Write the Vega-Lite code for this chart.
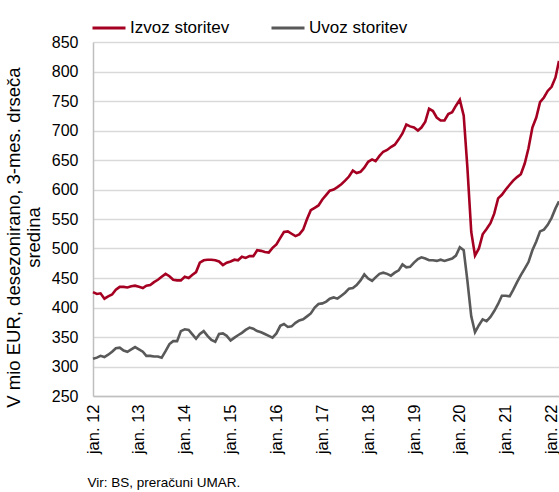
{
  "$schema": "https://vega.github.io/schema/vega-lite/v6.json",
  "width": 466,
  "height": 354,
  "autosize": {"type": "none"},
  "padding": {"left": 93, "top": 42, "right": 0, "bottom": 96},
  "background": "white",
  "config": {"view": {"stroke": null}, "font": "Liberation Sans"},
  "data": {"values": [
    {"datum": "2012/01/01", "Izvoz storitev": 426, "Uvoz storitev": 313},
    {"datum": "2012/02/01", "Izvoz storitev": 423, "Uvoz storitev": 315},
    {"datum": "2012/03/01", "Izvoz storitev": 424, "Uvoz storitev": 318},
    {"datum": "2012/04/01", "Izvoz storitev": 415, "Uvoz storitev": 316},
    {"datum": "2012/05/01", "Izvoz storitev": 419, "Uvoz storitev": 320},
    {"datum": "2012/06/01", "Izvoz storitev": 422, "Uvoz storitev": 325},
    {"datum": "2012/07/01", "Izvoz storitev": 430, "Uvoz storitev": 331},
    {"datum": "2012/08/01", "Izvoz storitev": 435, "Uvoz storitev": 332},
    {"datum": "2012/09/01", "Izvoz storitev": 435, "Uvoz storitev": 327},
    {"datum": "2012/10/01", "Izvoz storitev": 434, "Uvoz storitev": 325},
    {"datum": "2012/11/01", "Izvoz storitev": 436, "Uvoz storitev": 329},
    {"datum": "2012/12/01", "Izvoz storitev": 437, "Uvoz storitev": 333},
    {"datum": "2013/01/01", "Izvoz storitev": 435, "Uvoz storitev": 329},
    {"datum": "2013/02/01", "Izvoz storitev": 433, "Uvoz storitev": 325},
    {"datum": "2013/03/01", "Izvoz storitev": 437, "Uvoz storitev": 318},
    {"datum": "2013/04/01", "Izvoz storitev": 438, "Uvoz storitev": 318},
    {"datum": "2013/05/01", "Izvoz storitev": 443, "Uvoz storitev": 317},
    {"datum": "2013/06/01", "Izvoz storitev": 447, "Uvoz storitev": 317},
    {"datum": "2013/07/01", "Izvoz storitev": 452, "Uvoz storitev": 315},
    {"datum": "2013/08/01", "Izvoz storitev": 457, "Uvoz storitev": 326},
    {"datum": "2013/09/01", "Izvoz storitev": 453, "Uvoz storitev": 338},
    {"datum": "2013/10/01", "Izvoz storitev": 447, "Uvoz storitev": 343},
    {"datum": "2013/11/01", "Izvoz storitev": 446, "Uvoz storitev": 343},
    {"datum": "2013/12/01", "Izvoz storitev": 446, "Uvoz storitev": 360},
    {"datum": "2014/01/01", "Izvoz storitev": 452, "Uvoz storitev": 363},
    {"datum": "2014/02/01", "Izvoz storitev": 450, "Uvoz storitev": 362},
    {"datum": "2014/03/01", "Izvoz storitev": 455, "Uvoz storitev": 355},
    {"datum": "2014/04/01", "Izvoz storitev": 460, "Uvoz storitev": 347},
    {"datum": "2014/05/01", "Izvoz storitev": 476, "Uvoz storitev": 355},
    {"datum": "2014/06/01", "Izvoz storitev": 480, "Uvoz storitev": 360},
    {"datum": "2014/07/01", "Izvoz storitev": 481, "Uvoz storitev": 352},
    {"datum": "2014/08/01", "Izvoz storitev": 481, "Uvoz storitev": 345},
    {"datum": "2014/09/01", "Izvoz storitev": 480, "Uvoz storitev": 342},
    {"datum": "2014/10/01", "Izvoz storitev": 478, "Uvoz storitev": 355},
    {"datum": "2014/11/01", "Izvoz storitev": 472, "Uvoz storitev": 356},
    {"datum": "2014/12/01", "Izvoz storitev": 476, "Uvoz storitev": 352},
    {"datum": "2015/01/01", "Izvoz storitev": 478, "Uvoz storitev": 344},
    {"datum": "2015/02/01", "Izvoz storitev": 481, "Uvoz storitev": 349},
    {"datum": "2015/03/01", "Izvoz storitev": 480, "Uvoz storitev": 353},
    {"datum": "2015/04/01", "Izvoz storitev": 486, "Uvoz storitev": 357},
    {"datum": "2015/05/01", "Izvoz storitev": 484, "Uvoz storitev": 362},
    {"datum": "2015/06/01", "Izvoz storitev": 487, "Uvoz storitev": 366},
    {"datum": "2015/07/01", "Izvoz storitev": 487, "Uvoz storitev": 364},
    {"datum": "2015/08/01", "Izvoz storitev": 497, "Uvoz storitev": 360},
    {"datum": "2015/09/01", "Izvoz storitev": 496, "Uvoz storitev": 358},
    {"datum": "2015/10/01", "Izvoz storitev": 494, "Uvoz storitev": 355},
    {"datum": "2015/11/01", "Izvoz storitev": 493, "Uvoz storitev": 352},
    {"datum": "2015/12/01", "Izvoz storitev": 501, "Uvoz storitev": 349},
    {"datum": "2016/01/01", "Izvoz storitev": 507, "Uvoz storitev": 356},
    {"datum": "2016/02/01", "Izvoz storitev": 518, "Uvoz storitev": 369},
    {"datum": "2016/03/01", "Izvoz storitev": 528, "Uvoz storitev": 372},
    {"datum": "2016/04/01", "Izvoz storitev": 529, "Uvoz storitev": 367},
    {"datum": "2016/05/01", "Izvoz storitev": 525, "Uvoz storitev": 368},
    {"datum": "2016/06/01", "Izvoz storitev": 521, "Uvoz storitev": 374},
    {"datum": "2016/07/01", "Izvoz storitev": 524, "Uvoz storitev": 378},
    {"datum": "2016/08/01", "Izvoz storitev": 532, "Uvoz storitev": 380},
    {"datum": "2016/09/01", "Izvoz storitev": 550, "Uvoz storitev": 385},
    {"datum": "2016/10/01", "Izvoz storitev": 565, "Uvoz storitev": 390},
    {"datum": "2016/11/01", "Izvoz storitev": 569, "Uvoz storitev": 400},
    {"datum": "2016/12/01", "Izvoz storitev": 573, "Uvoz storitev": 406},
    {"datum": "2017/01/01", "Izvoz storitev": 583, "Uvoz storitev": 407},
    {"datum": "2017/02/01", "Izvoz storitev": 591, "Uvoz storitev": 410},
    {"datum": "2017/03/01", "Izvoz storitev": 598, "Uvoz storitev": 415},
    {"datum": "2017/04/01", "Izvoz storitev": 600, "Uvoz storitev": 417},
    {"datum": "2017/05/01", "Izvoz storitev": 604, "Uvoz storitev": 415},
    {"datum": "2017/06/01", "Izvoz storitev": 609, "Uvoz storitev": 420},
    {"datum": "2017/07/01", "Izvoz storitev": 615, "Uvoz storitev": 425},
    {"datum": "2017/08/01", "Izvoz storitev": 622, "Uvoz storitev": 432},
    {"datum": "2017/09/01", "Izvoz storitev": 632, "Uvoz storitev": 433},
    {"datum": "2017/10/01", "Izvoz storitev": 628, "Uvoz storitev": 438},
    {"datum": "2017/11/01", "Izvoz storitev": 630, "Uvoz storitev": 446},
    {"datum": "2017/12/01", "Izvoz storitev": 637, "Uvoz storitev": 456},
    {"datum": "2018/01/01", "Izvoz storitev": 647, "Uvoz storitev": 449},
    {"datum": "2018/02/01", "Izvoz storitev": 651, "Uvoz storitev": 445},
    {"datum": "2018/03/01", "Izvoz storitev": 648, "Uvoz storitev": 451},
    {"datum": "2018/04/01", "Izvoz storitev": 657, "Uvoz storitev": 457},
    {"datum": "2018/05/01", "Izvoz storitev": 664, "Uvoz storitev": 459},
    {"datum": "2018/06/01", "Izvoz storitev": 667, "Uvoz storitev": 457},
    {"datum": "2018/07/01", "Izvoz storitev": 672, "Uvoz storitev": 454},
    {"datum": "2018/08/01", "Izvoz storitev": 676, "Uvoz storitev": 459},
    {"datum": "2018/09/01", "Izvoz storitev": 685, "Uvoz storitev": 463},
    {"datum": "2018/10/01", "Izvoz storitev": 695, "Uvoz storitev": 473},
    {"datum": "2018/11/01", "Izvoz storitev": 710, "Uvoz storitev": 468},
    {"datum": "2018/12/01", "Izvoz storitev": 707, "Uvoz storitev": 469},
    {"datum": "2019/01/01", "Izvoz storitev": 705, "Uvoz storitev": 476},
    {"datum": "2019/02/01", "Izvoz storitev": 700, "Uvoz storitev": 482},
    {"datum": "2019/03/01", "Izvoz storitev": 705, "Uvoz storitev": 485},
    {"datum": "2019/04/01", "Izvoz storitev": 715, "Uvoz storitev": 483},
    {"datum": "2019/05/01", "Izvoz storitev": 737, "Uvoz storitev": 480},
    {"datum": "2019/06/01", "Izvoz storitev": 733, "Uvoz storitev": 480},
    {"datum": "2019/07/01", "Izvoz storitev": 722, "Uvoz storitev": 479},
    {"datum": "2019/08/01", "Izvoz storitev": 717, "Uvoz storitev": 481},
    {"datum": "2019/09/01", "Izvoz storitev": 717, "Uvoz storitev": 479},
    {"datum": "2019/10/01", "Izvoz storitev": 728, "Uvoz storitev": 481},
    {"datum": "2019/11/01", "Izvoz storitev": 731, "Uvoz storitev": 483},
    {"datum": "2019/12/01", "Izvoz storitev": 742, "Uvoz storitev": 488},
    {"datum": "2020/01/01", "Izvoz storitev": 752, "Uvoz storitev": 502},
    {"datum": "2020/02/01", "Izvoz storitev": 725, "Uvoz storitev": 497},
    {"datum": "2020/03/01", "Izvoz storitev": 638, "Uvoz storitev": 446},
    {"datum": "2020/04/01", "Izvoz storitev": 528, "Uvoz storitev": 385},
    {"datum": "2020/05/01", "Izvoz storitev": 488, "Uvoz storitev": 358},
    {"datum": "2020/06/01", "Izvoz storitev": 500, "Uvoz storitev": 370},
    {"datum": "2020/07/01", "Izvoz storitev": 524, "Uvoz storitev": 380},
    {"datum": "2020/08/01", "Izvoz storitev": 533, "Uvoz storitev": 377},
    {"datum": "2020/09/01", "Izvoz storitev": 543, "Uvoz storitev": 384},
    {"datum": "2020/10/01", "Izvoz storitev": 559, "Uvoz storitev": 394},
    {"datum": "2020/11/01", "Izvoz storitev": 585, "Uvoz storitev": 406},
    {"datum": "2020/12/01", "Izvoz storitev": 591, "Uvoz storitev": 420},
    {"datum": "2021/01/01", "Izvoz storitev": 600, "Uvoz storitev": 420},
    {"datum": "2021/02/01", "Izvoz storitev": 608, "Uvoz storitev": 419},
    {"datum": "2021/03/01", "Izvoz storitev": 615, "Uvoz storitev": 430},
    {"datum": "2021/04/01", "Izvoz storitev": 621, "Uvoz storitev": 443},
    {"datum": "2021/05/01", "Izvoz storitev": 626, "Uvoz storitev": 455},
    {"datum": "2021/06/01", "Izvoz storitev": 644, "Uvoz storitev": 466},
    {"datum": "2021/07/01", "Izvoz storitev": 670, "Uvoz storitev": 477},
    {"datum": "2021/08/01", "Izvoz storitev": 705, "Uvoz storitev": 497},
    {"datum": "2021/09/01", "Izvoz storitev": 722, "Uvoz storitev": 512},
    {"datum": "2021/10/01", "Izvoz storitev": 748, "Uvoz storitev": 529},
    {"datum": "2021/11/01", "Izvoz storitev": 756, "Uvoz storitev": 532},
    {"datum": "2021/12/01", "Izvoz storitev": 767, "Uvoz storitev": 540},
    {"datum": "2022/01/01", "Izvoz storitev": 774, "Uvoz storitev": 552},
    {"datum": "2022/02/01", "Izvoz storitev": 790, "Uvoz storitev": 568},
    {"datum": "2022/03/01", "Izvoz storitev": 818, "Uvoz storitev": 580}
  ]},
  "transform": [{"fold": ["Izvoz storitev", "Uvoz storitev"], "as": ["serija", "vrednost"]}],
  "mark": {"type": "line", "strokeWidth": 2.6, "clip": false},
  "encoding": {
    "x": {
      "field": "datum",
      "type": "temporal",
      "scale": {"domain": [{"year": 2012, "month": 1, "date": 1}, {"year": 2022, "month": 3, "date": 1}]},
      "axis": {
        "tickCount": {"interval": "year", "step": 1},
        "labelExpr": "'jan. ' + timeFormat(datum.value, '%y')",
        "labelAngle": 270,
        "labelAlign": "right",
        "labelBaseline": "middle",
        "labelPadding": 8,
        "labelFlush": false,
        "labelOverlap": false,
        "labelFontSize": 16.5,
        "labelColor": "#000000",
        "ticks": false,
        "grid": false,
        "domainColor": "#bfbfbf",
        "domainWidth": 1.5,
        "title": "Vir: BS, preračuni UMAR.",
        "titleX": -6,
        "titleY": 86,
        "titleAlign": "left",
        "titleAnchor": "start",
        "titleBaseline": "middle",
        "titleFontSize": 13.5,
        "titleFontWeight": "normal",
        "titleColor": "#000000"
      }
    },
    "y": {
      "field": "vrednost",
      "type": "quantitative",
      "scale": {"domain": [250, 850], "nice": false, "zero": false},
      "axis": {
        "values": [250, 300, 350, 400, 450, 500, 550, 600, 650, 700, 750, 800, 850],
        "grid": true,
        "gridColor": "#d9d9d9",
        "gridWidth": 1.5,
        "domainColor": "#bfbfbf",
        "domainWidth": 1.5,
        "ticks": false,
        "labelPadding": 15,
        "labelFontSize": 16,
        "labelColor": "#000000",
        "title": ["V mio EUR, desezonirano, 3-mes. drseča", "sredina"],
        "titleFontSize": 18.5,
        "titleFontWeight": "normal",
        "titleColor": "#000000",
        "titleAngle": 270,
        "titleAlign": "center",
        "titleBaseline": "middle",
        "titleLineHeight": 20,
        "titleX": -80,
        "titleY": 195
      }
    },
    "color": {
      "field": "serija",
      "type": "nominal",
      "scale": {"domain": ["Izvoz storitev", "Uvoz storitev"], "range": ["#a50021", "#595959"]},
      "legend": {
        "orient": "none",
        "legendX": -2,
        "legendY": -32,
        "direction": "horizontal",
        "title": null,
        "symbolType": "stroke",
        "symbolStrokeWidth": 3,
        "symbolSize": 1089,
        "labelFontSize": 17,
        "labelOffset": 3,
        "labelColor": "#000000",
        "columnPadding": 35,
        "padding": 0
      }
    }
  }
}
